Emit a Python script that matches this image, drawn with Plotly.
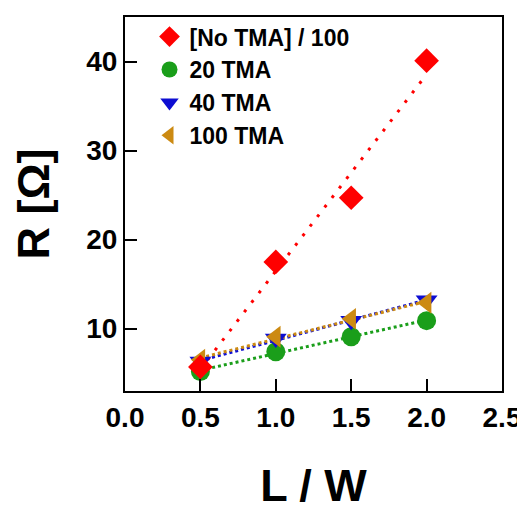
import numpy as np
import plotly.graph_objects as go

# ---- data ----
lw = [0.5, 1.0, 1.5, 2.0]
no_tma_div100 = [5.7, 17.5, 24.7, 40.1]
tma20 = [5.2, 7.4, 9.1, 10.9]
tma40 = [6.3, 8.9, 10.9, 13.2]
tma100 = [6.5, 9.1, 11.1, 12.9]

x_ticks = [0.0, 0.5, 1.0, 1.5, 2.0, 2.5]
y_ticks = [10, 20, 30, 40]

FONT = "Liberation Sans"

series = [
    # name, values, color, symbol, dash, legendrank
    ("20 TMA", tma20, "#1a9e1a", "circle", "dot", 2),
    ("40 TMA", tma40, "#0d0dd2", "triangle-down", "dot", 3),
    ("100 TMA", tma100, "#cc8a12", "triangle-left", "dot", 4),
    ("[No TMA] / 100", no_tma_div100, "#ff0000", "diamond", "3px,9px", 1),
]

fig = go.Figure()

xs = np.array(lw)
# linear fit lines (dotted), drawn under markers
for name, vals, color, sym, dash, rank in series:
    k, b = np.polyfit(xs, np.array(vals), 1)
    xf = np.array([xs.min(), xs.max()])
    fig.add_trace(go.Scatter(
        x=xf, y=k * xf + b, mode="lines",
        line=dict(color=color, width=3, dash=dash),
        showlegend=False, hoverinfo="skip"))

for name, vals, color, sym, dash, rank in series:
    fig.add_trace(go.Scatter(
        x=lw, y=vals, mode="markers", name=name, legendrank=rank,
        marker=dict(symbol=sym, size=19, color=color, line=dict(width=0))))

axis_common = dict(
    showline=True, linecolor="black", linewidth=2, mirror=True,
    ticks="inside", ticklen=12, tickwidth=2, tickcolor="black",
    showgrid=False, zeroline=False, automargin=False,
    tickfont=dict(family=FONT, size=28, color="black", weight="bold"),
)

# page body has an 8px default margin, so the figure is sized to fit the window
fig.update_layout(
    template="none",
    width=517, height=503,
    margin=dict(l=117, r=23, t=7, b=120),
    plot_bgcolor="white", paper_bgcolor="white",
    xaxis=dict(range=[0, 2.5], tickvals=x_ticks, ticktext=[f"{v:.1f}" for v in x_ticks],
               title=dict(text="L / W", standoff=44,
                          font=dict(family=FONT, size=45, color="black", weight="bold")),
               **axis_common),
    yaxis=dict(range=[3, 45], tickvals=y_ticks,
               title=dict(text="R [Ω]", standoff=34,
                          font=dict(family=FONT, size=45, color="black", weight="bold")),
               **axis_common),
    legend=dict(x=0.065, y=1.005, xanchor="left", yanchor="top",
                bgcolor="rgba(0,0,0,0)",
                font=dict(family=FONT, size=23, color="black", weight="bold"),
                itemsizing="trace"),
)

fig.write_html("out.html")
